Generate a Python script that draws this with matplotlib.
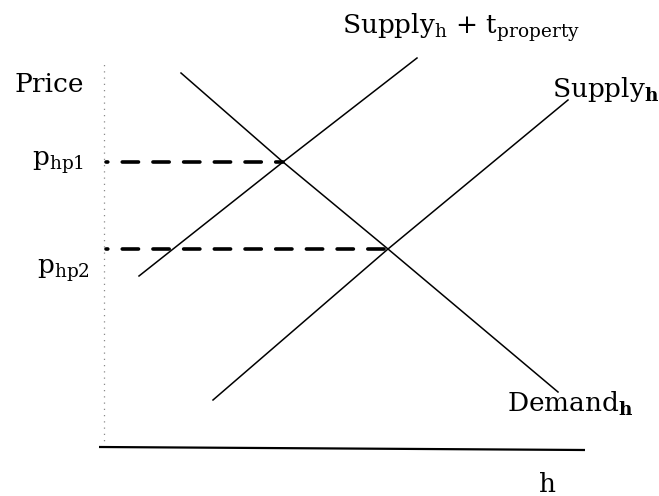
import numpy as np
import matplotlib
matplotlib.use('Agg')
import matplotlib.pyplot as plt

plt.rcParams['font.family'] = ['DejaVu Serif']
plt.rcParams['mathtext.fontset'] = 'custom'
plt.rcParams['mathtext.rm'] = 'DejaVu Serif'
plt.rcParams['mathtext.bf'] = 'DejaVu Serif:bold'

# curves as (h, price) pairs
demand_h = [77, 179, 284, 454]
demand_p = [374, 285, 198, 55]

supply_h = [109, 284, 464]
supply_p = [47, 198, 347]

supply_tax_h = [35, 179, 313]
supply_tax_p = [171, 285, 389]

# equilibria: with tax (p_hp1) and without (p_hp2)
eq_h = [179, 284]
eq_p = [285, 198]
eq_labels = [r'p$_{\mathrm{hp1}}$', r'p$_{\mathrm{hp2}}$']

fig = plt.figure(figsize=(6.59, 4.96), dpi=100)
ax = fig.add_axes([0, 0, 1, 1])
ax.set_xlim(-104, 555)
ax.set_ylim(-49, 447)
ax.axis('off')

# axes
ax.plot([0, 0], [0, 383], color='#8a8a8a', lw=0.9, ls=(0, (1, 4)))
ax.plot([-5, 481], [0, -3], color='black', lw=1.6, solid_capstyle='butt')

ax.plot(demand_h, demand_p, color='black', lw=1.1)
ax.plot(supply_h, supply_p, color='black', lw=1.1)
ax.plot(supply_tax_h, supply_tax_p, color='black', lw=1.1)

for h, p in zip(eq_h, eq_p):
    ax.plot([2, h], [p, p], color='black', lw=2.6, ls=(4, (4.5, 4)),
            dash_capstyle='round')

fs = 19
ax.text(-89, 355, 'Price', fontsize=fs, ha='left', va='baseline')
ax.text(-72, 282, eq_labels[0], fontsize=fs, ha='left', va='baseline')
ax.text(-67, 174, eq_labels[1], fontsize=fs, ha='left', va='baseline')
ax.text(238, 414, r'Supply$_{\mathrm{h}}$ + t$_{\mathrm{property}}$',
        fontsize=fs, ha='left', va='baseline')
ax.text(448, 350, r'Supply$_{\mathbf{h}}$', fontsize=fs, ha='left', va='baseline')
ax.text(403, 35, r'Demand$_{\mathbf{h}}$', fontsize=fs, ha='left', va='baseline')
ax.text(444, -45, 'h', fontsize=fs, ha='center', va='baseline')

fig.savefig('out.png', dpi=100, facecolor='white')
